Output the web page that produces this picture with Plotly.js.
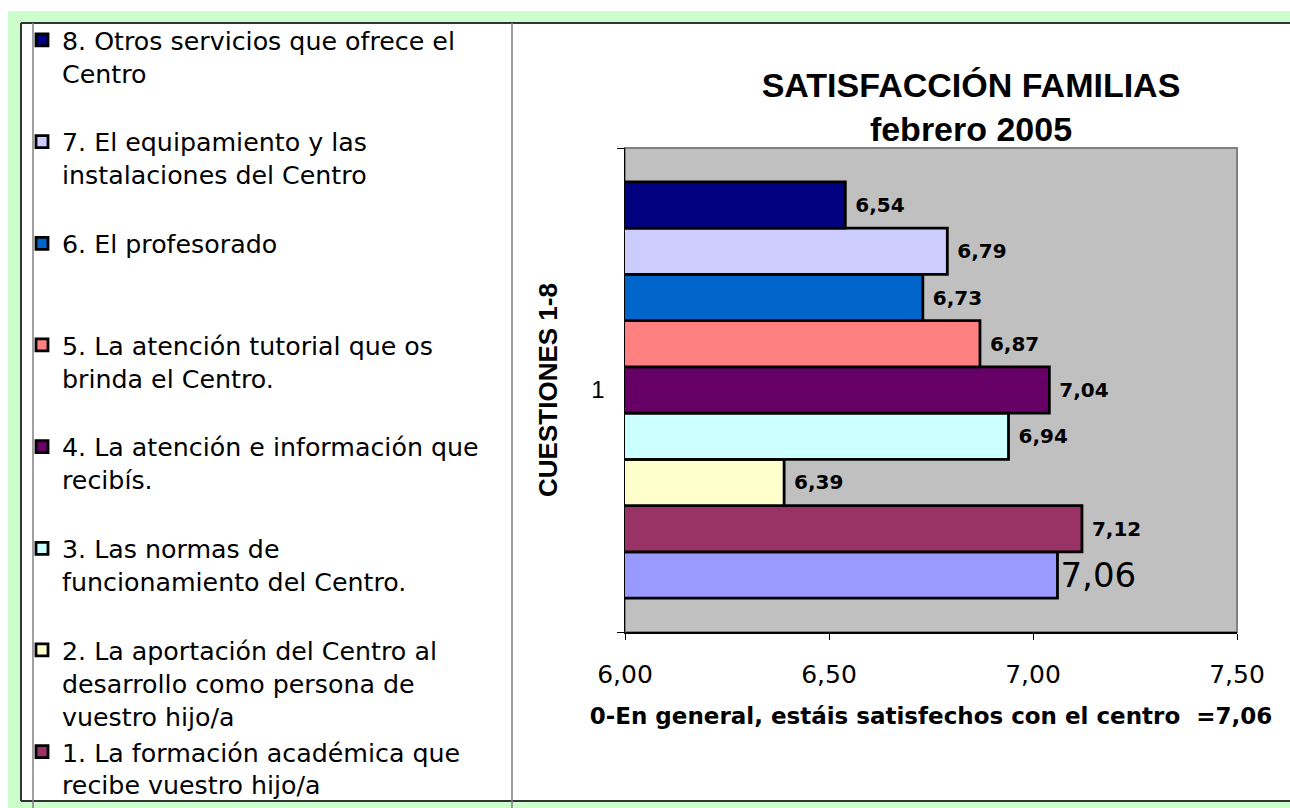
<!DOCTYPE html>
<html>
<head>
<meta charset="utf-8">
<script src="https://cdn.plot.ly/plotly-3.0.1.min.js"></script>
<style>
  html, body { margin: 0; padding: 0; background: #ffffff; }
  #chart { width: 1290px; height: 808px; }
</style>
</head>
<body>
<div id="chart"></div>
<script>
// ---- Data ----
const categories = ['1'];
const questionNames = [
  '0-En general, estáis satisfechos con el centro',
  '1. La formación académica que<br>recibe vuestro hijo/a',
  '2. La aportación del Centro al<br>desarrollo como persona de<br>vuestro hijo/a',
  '3. Las normas de<br>funcionamiento del Centro.',
  '4. La atención e información que<br>recibís.',
  '5. La atención tutorial que os<br>brinda el Centro.',
  '6. El profesorado',
  '7. El equipamiento y las<br>instalaciones del Centro',
  '8. Otros servicios que ofrece el<br>Centro'
];
const scores = [7.06, 7.12, 6.39, 6.94, 7.04, 6.87, 6.73, 6.79, 6.54];
const barColors = ['#9999ff', '#993366', '#ffffcc', '#ccffff', '#660066', '#ff8080', '#0066cc', '#ccccff', '#000080'];
const xTickVals = [6.0, 6.5, 7.0, 7.5];
const chartTitle = 'SATISFACCIÓN FAMILIAS<br>febrero 2005';
const xTitle = '0-En general, estáis satisfechos con el centro  =7,06';
const yTitle = 'CUESTIONES 1-8';

// ---- Geometry helpers ----
const W = 1290, H = 808;
const M = { l: 625, r: 53, t: 148, b: 176 };
const pw = W - M.l - M.r, ph = H - M.t - M.b;
const px = v => (v - M.l) / pw;
const py = v => (H - M.b - v) / ph;

// pad legend labels so that every entry occupies the same height (uniform spacing)
function padLines(label, n) {
  let lines = label.split('<br>');
  while (lines.length < n) lines.push('\u00a0');
  return lines.join('<br>');
}

const traces = scores.map((v, i) => ({
  type: 'bar',
  orientation: 'h',
  x: [v],
  y: categories,
  name: i <= 1 ? questionNames[i] : padLines(questionNames[i], 3),
  showlegend: i !== 0,
  marker: { color: barColors[i], line: { color: '#000000', width: 2.8 } },
  texttemplate: i === 0 ? '%{x:.2f}' : ' %{x:.2f}',
  textposition: 'outside',
  cliponaxis: false,
  textfont: i === 0
    ? { family: 'DejaVu Sans', size: 34, color: '#000000' }
    : { family: 'DejaVu Sans', size: 20, color: '#000000', weight: 'bold' },
  hoverinfo: 'skip'
}));

const lineCol = '#333333';
const shapes = [
  { type: 'rect', xref: 'paper', yref: 'paper', x0: px(8), x1: px(1290), y0: py(11), y1: py(808),
    fillcolor: '#ccffcc', line: { width: 0 }, layer: 'below' },
  { type: 'rect', xref: 'paper', yref: 'paper', x0: px(21), x1: px(1290), y0: py(23), y1: py(801),
    fillcolor: '#ffffff', line: { width: 0 }, layer: 'below' },
  { type: 'line', xref: 'paper', yref: 'paper', x0: px(21), x1: px(1290), y0: py(23), y1: py(23),
    line: { color: lineCol, width: 2 }, layer: 'below' },
  { type: 'line', xref: 'paper', yref: 'paper', x0: px(21), x1: px(21), y0: py(23), y1: py(801),
    line: { color: lineCol, width: 2 }, layer: 'below' },
  { type: 'line', xref: 'paper', yref: 'paper', x0: px(21), x1: px(1290), y0: py(801), y1: py(801),
    line: { color: lineCol, width: 2 }, layer: 'below' },
  { type: 'line', xref: 'paper', yref: 'paper', x0: px(33), x1: px(33), y0: py(23), y1: py(808),
    line: { color: '#808080', width: 1.5 }, layer: 'below' },
  { type: 'line', xref: 'paper', yref: 'paper', x0: px(512), x1: px(512), y0: py(23), y1: py(808),
    line: { color: '#808080', width: 1.5 }, layer: 'below' },
  { type: 'rect', xref: 'paper', yref: 'paper', x0: 0, x1: 1, y0: 0, y1: 1,
    fillcolor: '#c0c0c0', line: { color: '#808080', width: 2 }, layer: 'below' }
];

const layout = {
  width: W, height: H,
  margin: M,
  paper_bgcolor: '#ffffff',
  plot_bgcolor: '#c0c0c0',
  separators: ',.',
  barmode: 'group',
  bargap: 0.14,
  bargroupgap: 0,
  font: { family: 'Liberation Sans, Arial, sans-serif', color: '#000000' },
  title: {
    text: chartTitle,
    font: { family: 'Liberation Sans, Arial, sans-serif', size: 34, weight: 'bold', color: '#000000' },
    xref: 'container', yref: 'container',
    x: 971 / W, xanchor: 'center',
    y: 1 - 97 / H, yanchor: 'middle'
  },
  xaxis: {
    range: [6.0, 7.5],
    tickmode: 'array',
    tickvals: xTickVals,
    tickformat: '.2f',
    ticks: 'outside', ticklen: 6, tickcolor: '#000000', tickwidth: 1,
    ticklabelstandoff: 13,
    tickfont: { family: 'DejaVu Sans', size: 25, color: '#000000' },
    showgrid: false, zeroline: false,
    showline: true, linecolor: '#000000', linewidth: 1.5,
    fixedrange: true,
    title: {
      text: xTitle,
      font: { family: 'DejaVu Sans', size: 23, weight: 'bold', color: '#000000' },
      standoff: 20
    }
  },
  yaxis: {
    type: 'category',
    range: [-0.5, 0.5],
    tickson: 'boundaries',
    ticks: 'outside', ticklen: 7, tickcolor: '#000000',
    tickfont: { family: 'Liberation Sans, Arial, sans-serif', size: 24, color: '#000000' },
    ticklabelstandoff: 14,
    showgrid: false, zeroline: false,
    showline: true, linecolor: '#000000', linewidth: 1.5,
    fixedrange: true,
    title: {
      text: yTitle,
      font: { family: 'Liberation Sans, Arial, sans-serif', size: 26, weight: 'bold', color: '#000000' },
      standoff: 26
    }
  },
  legend: {
    x: px(22), xanchor: 'left',
    y: py(23), yanchor: 'top',
    bgcolor: 'rgba(0,0,0,0)',
    borderwidth: 0,
    traceorder: 'reversed',
    valign: 'top',
    maxheight: 808,
    itemclick: false, itemdoubleclick: false,
    font: { family: 'DejaVu Sans', size: 25.3, color: '#000000' }
  },
  shapes: shapes,
  showlegend: true
};

Plotly.newPlot('chart', traces, layout, { displayModeBar: false, staticPlot: true });
</script>
</body>
</html>
